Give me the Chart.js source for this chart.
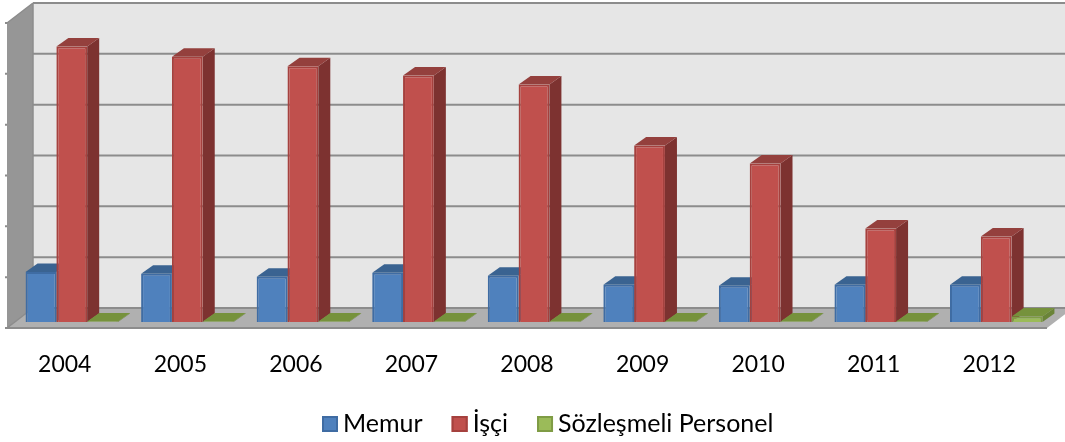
<!DOCTYPE html>
<html><head><meta charset="utf-8">
<style>html,body{margin:0;padding:0;background:#fff}#w{width:1065px;height:442px;position:relative}</style>
<script src="https://cdn.jsdelivr.net/npm/chart.js@4"></script></head>
<body><div id="w"><canvas id="c" width="1065" height="442"></canvas></div>
<script>
const years = ['2004','2005','2006','2007','2008','2009','2010','2011','2012'];
const memur = [9850,9500,8900,9700,9100,7350,7150,7350,7350];
const isci = [54200,52200,50300,48500,46700,34700,31200,18400,16800];
const sozlesmeli = [100,100,100,100,100,100,100,100,1100];
const yTicks = [0,10000,20000,30000,40000,50000,60000];
const shade = [
  {face:'#4F81BD',line:'#3F6CA3',side:'#3A6391',top:'#3A6391'},
  {face:'#C0504D',line:'#A5413E',side:'#7D3230',top:'#94403D'},
  {face:'#9BBB59',line:'#7F9C45',side:'#6A8438',top:'#76923C'}
];
const poly=(ctx,p,fill)=>{ctx.beginPath();p.forEach((q,i)=>i?ctx.lineTo(q[0],q[1]):ctx.moveTo(q[0],q[1]));ctx.closePath();ctx.fillStyle=fill;ctx.fill();};
const scene = {
  id:'scene',
  beforeDatasetsDraw(ch){
    const {ctx,chartArea:a,scales:{y}} = ch;
    const y0=y.getPixelForValue(0), yT=y.getPixelForValue(60000);
    const fl=a.left-7, fr=a.right-7, fb=y0+6, ft=yT+6;
    const bl=a.left+19, br=a.right+19, bb=y0-14, bt=yT-14;
    ctx.save();
    poly(ctx,[[bl,bt],[br,bt],[br,bb],[bl,bb]],'#E6E6E6');
    poly(ctx,[[fl,ft],[bl,bt],[bl,bb],[fl,fb]],'#969696');
    poly(ctx,[[fl,fb],[bl,bb],[br,bb],[fr,fb]],'#B0B0B0');
    ctx.strokeStyle='#8C8C8C';ctx.lineWidth=2;
    yTicks.forEach(v=>{
      const p=y.getPixelForValue(v);
      ctx.beginPath();ctx.moveTo(bl,p-14);ctx.lineTo(br,p-14);ctx.stroke();
      ctx.beginPath();ctx.moveTo(fl-2,p+6);ctx.lineTo(fl,p+6);ctx.stroke();
    });
    ctx.lineWidth=1.5;
    ctx.beginPath();ctx.moveTo(fl,ft);ctx.lineTo(bl,bt);ctx.stroke();
    ctx.beginPath();ctx.moveTo(fl,fb);ctx.lineTo(bl,bb);ctx.stroke();
    ctx.beginPath();ctx.moveTo(bl,bt);ctx.lineTo(bl,bb);ctx.stroke();
    ctx.lineWidth=2;
    ctx.beginPath();ctx.moveTo(fl,fb);ctx.lineTo(fr,fb);ctx.stroke();
    ctx.restore();
    // draw series left to right so each bar overlaps the side of the previous one
    ch.data.datasets.forEach((d,i)=>{
      const meta=ch.getDatasetMeta(i), s=shade[i], dx=12, dy=-8.5;
      meta.data.forEach(b=>{
        const l=b.x-b.width/2, r=b.x+b.width/2, t=b.y, z=b.base;
        poly(ctx,[[r,t],[r+dx,t+dy],[r+dx,z+dy],[r,z]],s.side);
        poly(ctx,[[l,t],[l+dx,t+dy],[r+dx,t+dy],[r,t]],s.top);
      });
      meta.controller.draw();
    });
  },
  beforeDatasetDraw(){ return false; },
  afterDraw(ch){
    const {ctx}=ch, box=16, gap=5, sep=29, font='25px Lato', cy=424;
    ctx.save();ctx.font=font;ctx.textBaseline='middle';
    const w=ch.data.datasets.map(d=>box+gap+ctx.measureText(d.label).width);
    let x=322;
    ch.data.datasets.forEach((d,i)=>{
      ctx.fillStyle=shade[i].face;ctx.strokeStyle=shade[i].line;ctx.lineWidth=2;
      ctx.fillRect(x,cy-8,box,box);ctx.strokeRect(x+1,cy-7,box-2,box-2);
      ctx.fillStyle='#000';ctx.fillText(d.label,x+box+gap,cy);
      x+=w[i]+sep;
    });
    ctx.restore();
  }
};
const ds=(label,data,i)=>({label,data,backgroundColor:shade[i].face,borderColor:shade[i].line,borderWidth:2,barPercentage:1,categoryPercentage:0.8});
new Chart(document.getElementById('c'),{
  type:'bar',
  data:{labels:years,datasets:[ds('Memur',memur,0),ds('İşçi',isci,1),ds('Sözleşmeli Personel',sozlesmeli,2)]},
  options:{
    responsive:false,animation:false,
    layout:{padding:{left:14,right:11,top:17,bottom:66}},
    plugins:{tooltip:{enabled:false},legend:{display:false}},
    scales:{
      y:{display:false,min:0,max:60000,ticks:{stepSize:10000}},
      x:{grid:{display:false},border:{display:false},
         ticks:{color:'#000',font:{family:'Lato',size:23},labelOffset:-7,padding:21,maxRotation:0},
         afterFit(s){s.height=54;}}
    }
  },
  plugins:[scene]
});
</script></body></html>
